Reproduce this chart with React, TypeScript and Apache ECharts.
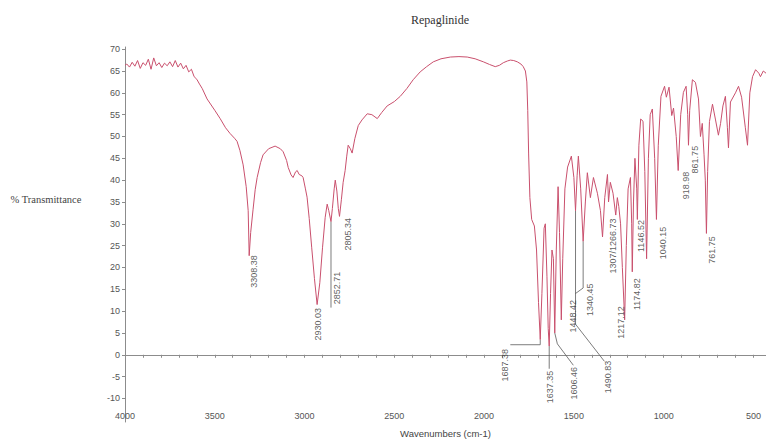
import React, { useEffect, useRef } from "react";
import * as echarts from "echarts";

// Spectrum trace: [wavenumber (cm-1), % transmittance]
const spectrum: [number, number][] = [
  [4000, 66.3], [3990, 66.6], [3975, 65.9], [3960, 67.0], [3945, 66.1], [3930, 67.4], [3915, 65.6],
  [3900, 66.9], [3885, 66.3], [3870, 67.7], [3855, 65.4], [3840, 68.0], [3825, 66.2], [3810, 66.9],
  [3795, 65.8], [3780, 66.8], [3765, 66.2], [3750, 67.1], [3735, 66.0], [3720, 67.4], [3705, 65.9],
  [3690, 66.8], [3675, 65.5], [3660, 66.3], [3645, 64.8], [3630, 65.4], [3615, 63.7], [3600, 63.1],
  [3585, 62.0], [3570, 61.0], [3543, 58.6], [3500, 56.0], [3470, 54.1], [3440, 52.0], [3415, 50.7],
  [3390, 49.6], [3376, 48.9], [3360, 46.8], [3342, 43.5], [3325, 38.5], [3314, 33.0], [3308.38, 22.7],
  [3300, 28.0], [3287, 33.2], [3275, 37.8], [3264, 40.6], [3245, 44.0], [3231, 45.8], [3200, 47.2],
  [3164, 47.8], [3135, 47.2], [3119, 46.5], [3100, 44.5], [3091, 42.9], [3075, 41.2], [3064, 40.6],
  [3050, 41.9], [3041, 42.2], [3030, 41.3], [3015, 41.0], [3008, 40.6], [2995, 38.0], [2986, 36.1],
  [2974, 31.2], [2960, 24.5], [2945, 17.5], [2930.03, 11.5], [2915, 16.5], [2900, 24.5], [2885, 31.5],
  [2874, 34.5], [2865, 33.0], [2852.71, 30.5], [2845, 33.5], [2835, 38.0], [2829, 40.0], [2820, 37.5],
  [2812, 33.5], [2805.34, 31.7], [2795, 35.5], [2785, 39.5], [2774, 42.2], [2765, 45.5], [2757, 48.0],
  [2745, 47.2], [2735, 46.2], [2720, 49.5], [2701, 52.5], [2680, 53.8], [2651, 55.2], [2625, 55.0],
  [2595, 54.1], [2570, 55.5], [2540, 57.0], [2500, 58.0], [2467, 59.2], [2430, 61.0], [2395, 63.0],
  [2356, 64.8], [2320, 66.0], [2283, 67.1], [2240, 67.8], [2188, 68.2], [2140, 68.3], [2094, 68.2],
  [2050, 67.8], [2004, 67.1], [1970, 66.5], [1938, 66.0], [1915, 66.3], [1893, 66.9], [1870, 67.3],
  [1854, 67.5], [1835, 67.4], [1815, 67.1], [1795, 66.6], [1782, 66.0], [1770, 65.0], [1762, 62.5],
  [1757, 56.0], [1752, 46.0], [1745, 36.0], [1735, 31.0], [1720, 29.5], [1708, 24.0], [1697, 12.0],
  [1687.38, 3.5], [1678, 14.0], [1666, 29.0], [1659, 30.0], [1650, 18.0], [1643, 6.0], [1637.35, 2.0],
  [1630, 14.0], [1622, 24.0], [1614, 22.0], [1606.46, 5.0], [1598, 24.0], [1588, 38.5], [1580, 28.0],
  [1570, 8.0], [1562, 22.0], [1550, 38.0], [1535, 43.0], [1514, 45.5], [1500, 40.6], [1490.83, 33.0],
  [1482, 41.0], [1475, 45.5], [1462, 38.0], [1448.42, 26.0], [1436, 35.0], [1425, 41.7], [1408, 36.0],
  [1391, 40.6], [1369, 37.0], [1352, 33.0], [1340.45, 27.0], [1328, 36.0], [1313, 41.3], [1307, 35.0],
  [1297, 39.5], [1282, 37.0], [1266.73, 32.0], [1258, 36.0], [1250, 34.0], [1240, 30.0], [1230, 20.0],
  [1217.12, 8.0], [1208, 25.0], [1198, 38.0], [1185, 40.6], [1178, 30.0], [1174.82, 19.0], [1168, 35.0],
  [1160, 45.0], [1150, 38.0], [1146.52, 31.0], [1138, 48.0], [1128, 54.0], [1115, 53.5], [1105, 42.0],
  [1095, 22.0], [1085, 45.0], [1075, 55.0], [1063, 56.3], [1050, 45.0], [1040.15, 31.0], [1030, 48.0],
  [1015, 59.2], [995, 61.5], [985, 59.0], [970, 61.3], [955, 54.8], [945, 56.5], [930, 50.0],
  [918.98, 42.2], [905, 55.0], [890, 60.1], [875, 61.5], [866, 55.0], [861.75, 48.0], [855, 56.0],
  [840, 63.0], [823, 62.4], [806, 58.6], [795, 50.0], [785, 53.0], [775, 45.8], [768, 40.0],
  [761.75, 27.8], [755, 42.0], [745, 53.4], [728, 57.4], [712, 54.0], [695, 50.3], [683, 53.0],
  [670, 57.0], [656, 59.2], [645, 52.0], [639, 47.4], [628, 57.9], [600, 60.0], [583, 61.5],
  [566, 59.0], [545, 52.0], [533, 48.0], [520, 60.0], [505, 63.7], [488, 65.3], [470, 64.5],
  [461, 63.7], [445, 65.0], [430, 64.5],
];

// Peak annotations
const peakTexts = [
  "3308.38", "2930.03", "2852.71", "2805.34", "1687.38", "1637.35", "1606.46", "1490.83", "1448.42",
  "1340.45", "1307/1266.73", "1217.12", "1174.82", "1146.52", "1040.15", "918.98", "861.75", "761.75",
];
const peakWavenumbers = [
  3308.38, 2930.03, 2852.71, 2805.34, 1687.38, 1637.35, 1606.46, 1490.83, 1448.42,
  1340.45, 1266.73, 1217.12, 1174.82, 1146.52, 1040.15, 918.98, 861.75, 761.75,
];
const peakTransmittance = [
  22.7, 11.5, 30.5, 31.7, 3.5, 2.0, 5.0, 33.0, 26.0,
  27.0, 32.0, 8.0, 19.0, 31.0, 31.0, 42.2, 48.0, 27.8,
];

const xTickLabels = [4000, 3500, 3000, 2500, 2000, 1500, 1000, 500];
const yTickLabels = [-10, -5, 0, 5, 10, 15, 20, 25, 30, 35, 40, 45, 50, 55, 60, 65, 70];

// ---- layout (label centres & leader knees, in axis units) ----
const labelCentres: [number, number][] = [
  [3281, 19.1], [2924, 7.0], [2818, 15.3], [2757, 27.6], [1882, -2.4], [1631, -7.4], [1497, -6.5],
  [1308, -5.1], [1503, 8.8], [1408, 12.6], [1280, 24.9], [1235, 7.4], [1146, 13.9], [1124, 27.2],
  [1001, 25.6], [873, 38.8], [823, 44.7], [728, 24.0],
];
const leaderKnees: { peak: number; via: [number, number][] }[] = [
  { peak: 2, via: [[2852.71, 10.8]] },
  { peak: 4, via: [[1687.38, 2.3], [1854, 2.3]] },
  { peak: 5, via: [[1637.35, -3.2]] },
  { peak: 6, via: [[1592, 2.5], [1503, -2.4]] },
  { peak: 7, via: [[1490.83, 7.0], [1330, -1.5]] },
  { peak: 8, via: [[1448.42, 15.3], [1492, 14.0]] },
];

const xMinorTicks: number[] = [];
for (let w = 500; w <= 4000; w += 100) xMinorTicks.push(w);

export default function App() {
  const ref = useRef<HTMLDivElement>(null);

  useEffect(() => {
    if (!ref.current) return;
    const chart = echarts.init(ref.current, null, { renderer: "svg" });
    const axisColor = "#8c8c8c";
    const leaderSeries = leaderKnees.map((l) => ({
      type: "line",
      silent: true,
      showSymbol: false,
      symbol: "none",
      lineStyle: { color: "#5a5a5a", width: 0.8 },
      data: [[peakWavenumbers[l.peak], peakTransmittance[l.peak]], ...l.via],
      z: 3,
    }));

    chart.setOption({
      animation: false,
      backgroundColor: "#ffffff",
      grid: { left: 125, right: 0, top: 47, bottom: 13, containLabel: false },
      xAxis: {
        type: "value",
        min: 430,
        max: 4000,
        inverse: true,
        axisLine: { show: true, lineStyle: { color: axisColor, width: 1 } },
        axisTick: { show: true, customValues: xMinorTicks, length: 3, lineStyle: { color: axisColor } },
        axisLabel: {
          inside: true,
          customValues: xTickLabels,
          formatter: (v: number) => String(v),
          fontSize: 9,
          color: "#555",
          margin: 2,
          fontFamily: "Liberation Sans",
        },
        splitLine: { show: false },
        name: "Wavenumbers (cm-1)",
        nameLocation: "middle",
        nameGap: 6,
        nameTextStyle: { fontSize: 9.5, color: "#444", fontFamily: "Liberation Sans" },
      },
      yAxis: {
        type: "value",
        min: -15.4,
        max: 70.5,
        axisLine: { show: true, lineStyle: { color: axisColor, width: 1 } },
        axisTick: { show: true, customValues: yTickLabels, length: 3, lineStyle: { color: axisColor } },
        axisLabel: {
          customValues: yTickLabels,
          formatter: (v: number) => String(v),
          fontSize: 9,
          color: "#555",
          margin: 5,
          fontFamily: "Liberation Sans",
        },
        splitLine: { show: false },
      },
      graphic: [
        {
          type: "text",
          x: 440,
          y: 20,
          style: {
            text: "Repaglinide",
            fill: "#333",
            font: "12px 'Liberation Serif'",
            textAlign: "center",
            textVerticalAlign: "middle",
          },
        },
        {
          type: "text",
          x: 46,
          y: 199,
          style: {
            text: "% Transmittance",
            fill: "#444",
            font: "10.5px 'Liberation Serif'",
            textAlign: "center",
            textVerticalAlign: "middle",
          },
        },
      ],
      series: [
        {
          type: "line",
          name: "Repaglinide",
          data: spectrum,
          showSymbol: false,
          symbol: "none",
          lineStyle: { color: "#c9506d", width: 1 },
          silent: true,
          z: 4,
        },
        ...leaderSeries,
        {
          type: "scatter",
          silent: true,
          symbol: "circle",
          symbolSize: 1,
          itemStyle: { color: "rgba(0,0,0,0)" },
          data: peakTexts.map((t, i) => ({ name: t, value: labelCentres[i] })),
          label: {
            show: true,
            formatter: "{b}",
            position: "inside",
            rotate: 90,
            fontSize: 9,
            color: "#333",
            fontFamily: "Liberation Sans",
          },
          emphasis: { disabled: true },
          z: 5,
        },
      ],
    });
    return () => chart.dispose();
  }, []);

  return (
    <div
      ref={ref}
      style={{ position: "fixed", left: 0, top: 0, width: 766, height: 443, background: "#fff" }}
    />
  );
}
